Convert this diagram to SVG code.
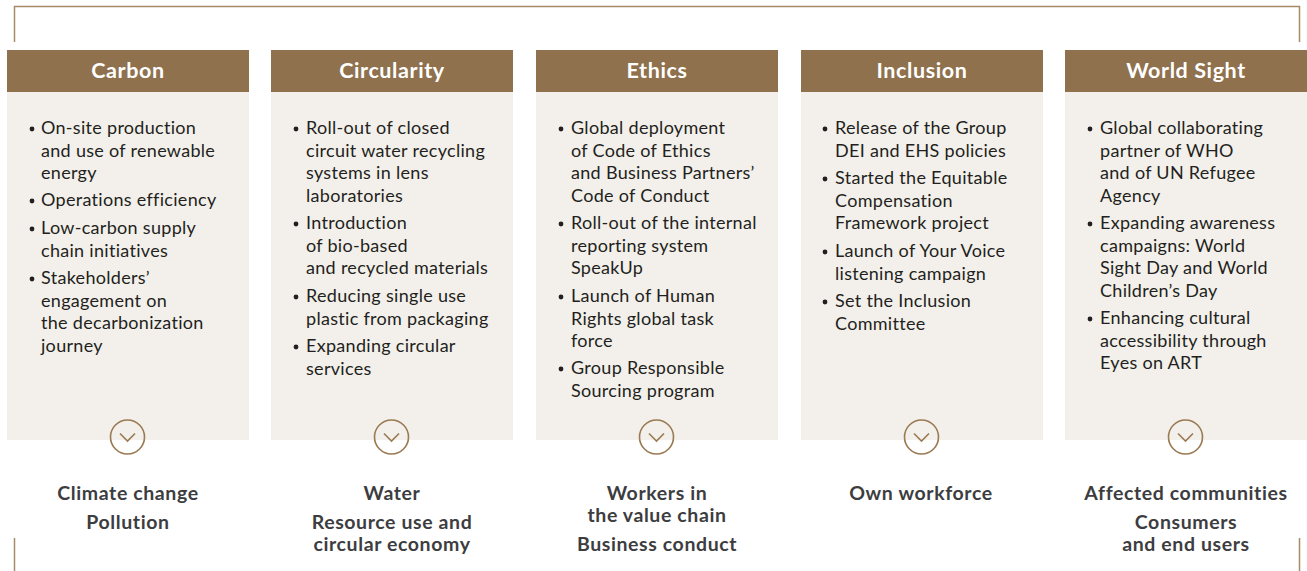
<svg xmlns="http://www.w3.org/2000/svg" width="1307" height="571" viewBox="0 0 1307 571">
<style>
.hdr{fill:#8f714d}
.body{fill:#f3f0eb}
.ht{font-family:Lato,"Open Sans",sans-serif;font-weight:700;font-size:21.5px;letter-spacing:0.6px;fill:#ffffff;text-anchor:middle}
.bt{font-family:Lato,"Open Sans",sans-serif;font-size:18px;letter-spacing:0.3px;fill:#231f20}
.bl{font-family:Lato,"Open Sans",sans-serif;font-weight:700;font-size:19.5px;letter-spacing:0.6px;fill:#3d3d3f;text-anchor:middle}
.dot{fill:#231f20}
.brk{fill:none;stroke:#a68b69;stroke-width:1.5}
.circ{fill:none;stroke:#9a7a52;stroke-width:1.6}
.chev{fill:none;stroke:#9a7a52;stroke-width:1.6;stroke-linejoin:miter}
</style>
<g id="bracket">
<path class="brk" d="M14.5,42 V6.5 H1299.5 V42"/>
<path class="brk" d="M14.5,538 V571"/>
<path class="brk" d="M1299.5,538 V571"/>
</g>
<g id="carbon">
<rect class="body" x="7" y="92" width="242" height="348"/>
<rect class="hdr" x="7" y="50" width="242" height="42"/>
<text class="ht" x="128" y="77.5">Carbon</text>
<g class="bt">
<circle class="dot" cx="32" cy="129" r="2.4"/>
<text x="41" y="134">On-site production</text>
<text x="41" y="156.5">and use of renewable</text>
<text x="41" y="179">energy</text>
<circle class="dot" cx="32" cy="201" r="2.4"/>
<text x="41" y="206">Operations efficiency</text>
<circle class="dot" cx="32" cy="229" r="2.4"/>
<text x="41" y="234">Low-carbon supply</text>
<text x="41" y="256.5">chain initiatives</text>
<circle class="dot" cx="32" cy="279" r="2.4"/>
<text x="41" y="284">Stakeholders’</text>
<text x="41" y="306.5">engagement on</text>
<text x="41" y="329">the decarbonization</text>
<text x="41" y="351.5">journey</text>
</g>
<circle class="circ" cx="127.5" cy="437" r="17"/>
<path class="chev" d="M120,433.5 L127.5,441 L135,433.5"/>
<text class="bl" x="128" y="500">Climate change</text>
<text class="bl" x="128" y="529">Pollution</text>
</g>
<g id="circularity">
<rect class="body" x="271" y="92" width="242" height="348"/>
<rect class="hdr" x="271" y="50" width="242" height="42"/>
<text class="ht" x="392" y="77.5">Circularity</text>
<g class="bt">
<circle class="dot" cx="296" cy="129" r="2.4"/>
<text x="306" y="134">Roll-out of closed</text>
<text x="306" y="156.5">circuit water recycling</text>
<text x="306" y="179">systems in lens</text>
<text x="306" y="201.5">laboratories</text>
<circle class="dot" cx="296" cy="224" r="2.4"/>
<text x="306" y="229">Introduction</text>
<text x="306" y="251.5">of bio-based</text>
<text x="306" y="274">and recycled materials</text>
<circle class="dot" cx="296" cy="297" r="2.4"/>
<text x="306" y="302">Reducing single use</text>
<text x="306" y="324.5">plastic from packaging</text>
<circle class="dot" cx="296" cy="347" r="2.4"/>
<text x="306" y="352">Expanding circular</text>
<text x="306" y="374.5">services</text>
</g>
<circle class="circ" cx="391.5" cy="437" r="17"/>
<path class="chev" d="M384,433.5 L391.5,441 L399,433.5"/>
<text class="bl" x="392" y="500">Water</text>
<text class="bl" x="392" y="529">Resource use and</text>
<text class="bl" x="392" y="551">circular economy</text>
</g>
<g id="ethics">
<rect class="body" x="536" y="92" width="242" height="348"/>
<rect class="hdr" x="536" y="50" width="242" height="42"/>
<text class="ht" x="657" y="77.5">Ethics</text>
<g class="bt">
<circle class="dot" cx="561" cy="129" r="2.4"/>
<text x="571" y="134">Global deployment</text>
<text x="571" y="156.5">of Code of Ethics</text>
<text x="571" y="179">and Business Partners’</text>
<text x="571" y="201.5">Code of Conduct</text>
<circle class="dot" cx="561" cy="224" r="2.4"/>
<text x="571" y="229">Roll-out of the internal</text>
<text x="571" y="251.5">reporting system</text>
<text x="571" y="274">SpeakUp</text>
<circle class="dot" cx="561" cy="297" r="2.4"/>
<text x="571" y="302">Launch of Human</text>
<text x="571" y="324.5">Rights global task</text>
<text x="571" y="347">force</text>
<circle class="dot" cx="561" cy="369" r="2.4"/>
<text x="571" y="374">Group Responsible</text>
<text x="571" y="396.5">Sourcing program</text>
</g>
<circle class="circ" cx="656.5" cy="437" r="17"/>
<path class="chev" d="M649,433.5 L656.5,441 L664,433.5"/>
<text class="bl" x="657" y="500">Workers in</text>
<text class="bl" x="657" y="522">the value chain</text>
<text class="bl" x="657" y="551">Business conduct</text>
</g>
<g id="inclusion">
<rect class="body" x="801" y="92" width="242" height="348"/>
<rect class="hdr" x="801" y="50" width="242" height="42"/>
<text class="ht" x="922" y="77.5">Inclusion</text>
<g class="bt">
<circle class="dot" cx="825" cy="129" r="2.4"/>
<text x="835" y="134">Release of the Group</text>
<text x="835" y="156.5">DEI and EHS policies</text>
<circle class="dot" cx="825" cy="179" r="2.4"/>
<text x="835" y="184">Started the Equitable</text>
<text x="835" y="206.5">Compensation</text>
<text x="835" y="229">Framework project</text>
<circle class="dot" cx="825" cy="252" r="2.4"/>
<text x="835" y="257">Launch of Your Voice</text>
<text x="835" y="279.5">listening campaign</text>
<circle class="dot" cx="825" cy="302" r="2.4"/>
<text x="835" y="307">Set the Inclusion</text>
<text x="835" y="329.5">Committee</text>
</g>
<circle class="circ" cx="921.5" cy="437" r="17"/>
<path class="chev" d="M914,433.5 L921.5,441 L929,433.5"/>
<text class="bl" x="921" y="500">Own workforce</text>
</g>
<g id="world-sight">
<rect class="body" x="1065" y="92" width="242" height="348"/>
<rect class="hdr" x="1065" y="50" width="242" height="42"/>
<text class="ht" x="1186" y="77.5">World Sight</text>
<g class="bt">
<circle class="dot" cx="1090" cy="129" r="2.4"/>
<text x="1100" y="134">Global collaborating</text>
<text x="1100" y="156.5">partner of WHO</text>
<text x="1100" y="179">and of UN Refugee</text>
<text x="1100" y="201.5">Agency</text>
<circle class="dot" cx="1090" cy="224" r="2.4"/>
<text x="1100" y="229">Expanding awareness</text>
<text x="1100" y="251.5">campaigns: World</text>
<text x="1100" y="274">Sight Day and World</text>
<text x="1100" y="296.5">Children’s Day</text>
<circle class="dot" cx="1090" cy="319" r="2.4"/>
<text x="1100" y="324">Enhancing cultural</text>
<text x="1100" y="346.5">accessibility through</text>
<text x="1100" y="369">Eyes on ART</text>
</g>
<circle class="circ" cx="1185.5" cy="437" r="17"/>
<path class="chev" d="M1178,433.5 L1185.5,441 L1193,433.5"/>
<text class="bl" x="1186" y="500">Affected communities</text>
<text class="bl" x="1186" y="529">Consumers</text>
<text class="bl" x="1186" y="551">and end users</text>
</g>
</svg>
